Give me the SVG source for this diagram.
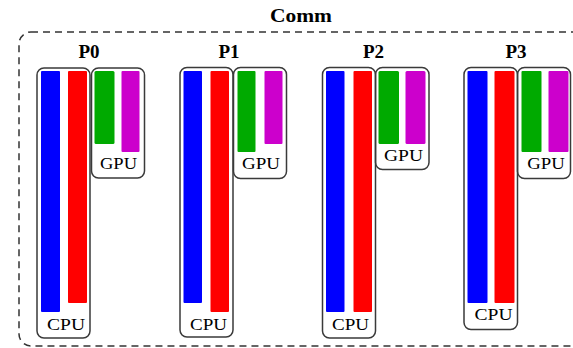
<svg xmlns="http://www.w3.org/2000/svg" width="573" height="348" viewBox="0 0 573 348">
<style>
.box{fill:none;stroke:#3a3a3a;stroke-width:1.5}
.outer{fill:none;stroke:#333;stroke-width:1.5;stroke-dasharray:7 5}
.b{fill:#0000ff}.r{fill:#ff0000}.g{fill:#00aa00}.m{fill:#cc00cc}
.t{font-family:"Liberation Serif","Times New Roman",serif;font-weight:bold;font-size:19px;fill:#000;text-anchor:middle}
.l{font-family:"Liberation Serif","Times New Roman",serif;font-size:17px;fill:#000;text-anchor:middle}
</style>
<rect width="573" height="348" fill="#fff"/>
<g id="comm">
<rect class="outer" x="19" y="32" width="580" height="314" rx="12"/>
<text class="t" x="301" y="22" font-size="18" textLength="62" lengthAdjust="spacingAndGlyphs">Comm</text>
</g>
<g id="P0">
<text class="t" x="89" y="58">P0</text>
<rect class="b" x="41" y="71" width="19" height="241" rx="1"/>
<rect class="r" x="68" y="71" width="19" height="232" rx="1"/>
<rect class="box" x="37" y="68" width="53" height="270" rx="7"/>
<text class="l" x="66" y="330" textLength="38" lengthAdjust="spacingAndGlyphs">CPU</text>
<rect class="g" x="94.5" y="71" width="20" height="73" rx="1.5"/>
<rect class="m" x="121.5" y="71" width="18" height="81" rx="1"/>
<rect class="box" x="91.5" y="68" width="53" height="110" rx="7"/>
<text class="l" x="118.5" y="169" textLength="37" lengthAdjust="spacingAndGlyphs">GPU</text>
</g>
<g id="P1">
<text class="t" x="229" y="58">P1</text>
<rect class="b" x="183.5" y="71" width="18.5" height="232" rx="1"/>
<rect class="r" x="210.5" y="71" width="18.5" height="241" rx="1"/>
<rect class="box" x="180" y="67.5" width="53" height="269.5" rx="7"/>
<text class="l" x="208.5" y="330" textLength="37" lengthAdjust="spacingAndGlyphs">CPU</text>
<rect class="g" x="237.5" y="71" width="18" height="81" rx="1"/>
<rect class="m" x="264.5" y="71" width="18" height="73" rx="1"/>
<rect class="box" x="233.5" y="67.5" width="53" height="111" rx="7"/>
<text class="l" x="261" y="169" textLength="38" lengthAdjust="spacingAndGlyphs">GPU</text>
</g>
<g id="P2">
<text class="t" x="373.5" y="58">P2</text>
<rect class="b" x="326" y="71" width="18.5" height="241" rx="1"/>
<rect class="r" x="353.5" y="71" width="18.5" height="241" rx="1"/>
<rect class="box" x="322.5" y="67.5" width="53" height="270.5" rx="7"/>
<text class="l" x="350.5" y="330" textLength="37" lengthAdjust="spacingAndGlyphs">CPU</text>
<rect class="g" x="378.5" y="71" width="20.5" height="73" rx="1.5"/>
<rect class="m" x="405.5" y="71" width="20" height="73" rx="1.5"/>
<rect class="box" x="375.5" y="67.5" width="53.5" height="102" rx="7"/>
<text class="l" x="403.5" y="160.5" textLength="39" lengthAdjust="spacingAndGlyphs">GPU</text>
</g>
<g id="P3">
<text class="t" x="516" y="58">P3</text>
<rect class="b" x="467.5" y="71" width="20" height="232" rx="1"/>
<rect class="r" x="494.5" y="71" width="20" height="232" rx="1"/>
<rect class="box" x="464" y="67.5" width="53.5" height="262" rx="7"/>
<text class="l" x="493.5" y="319.5" textLength="38" lengthAdjust="spacingAndGlyphs">CPU</text>
<rect class="g" x="521.5" y="71" width="20" height="81" rx="1"/>
<rect class="m" x="548.5" y="71" width="20" height="81" rx="1"/>
<rect class="box" x="517.5" y="67.5" width="53" height="111" rx="7"/>
<text class="l" x="546" y="169" textLength="37.5" lengthAdjust="spacingAndGlyphs">GPU</text>
</g>
</svg>
